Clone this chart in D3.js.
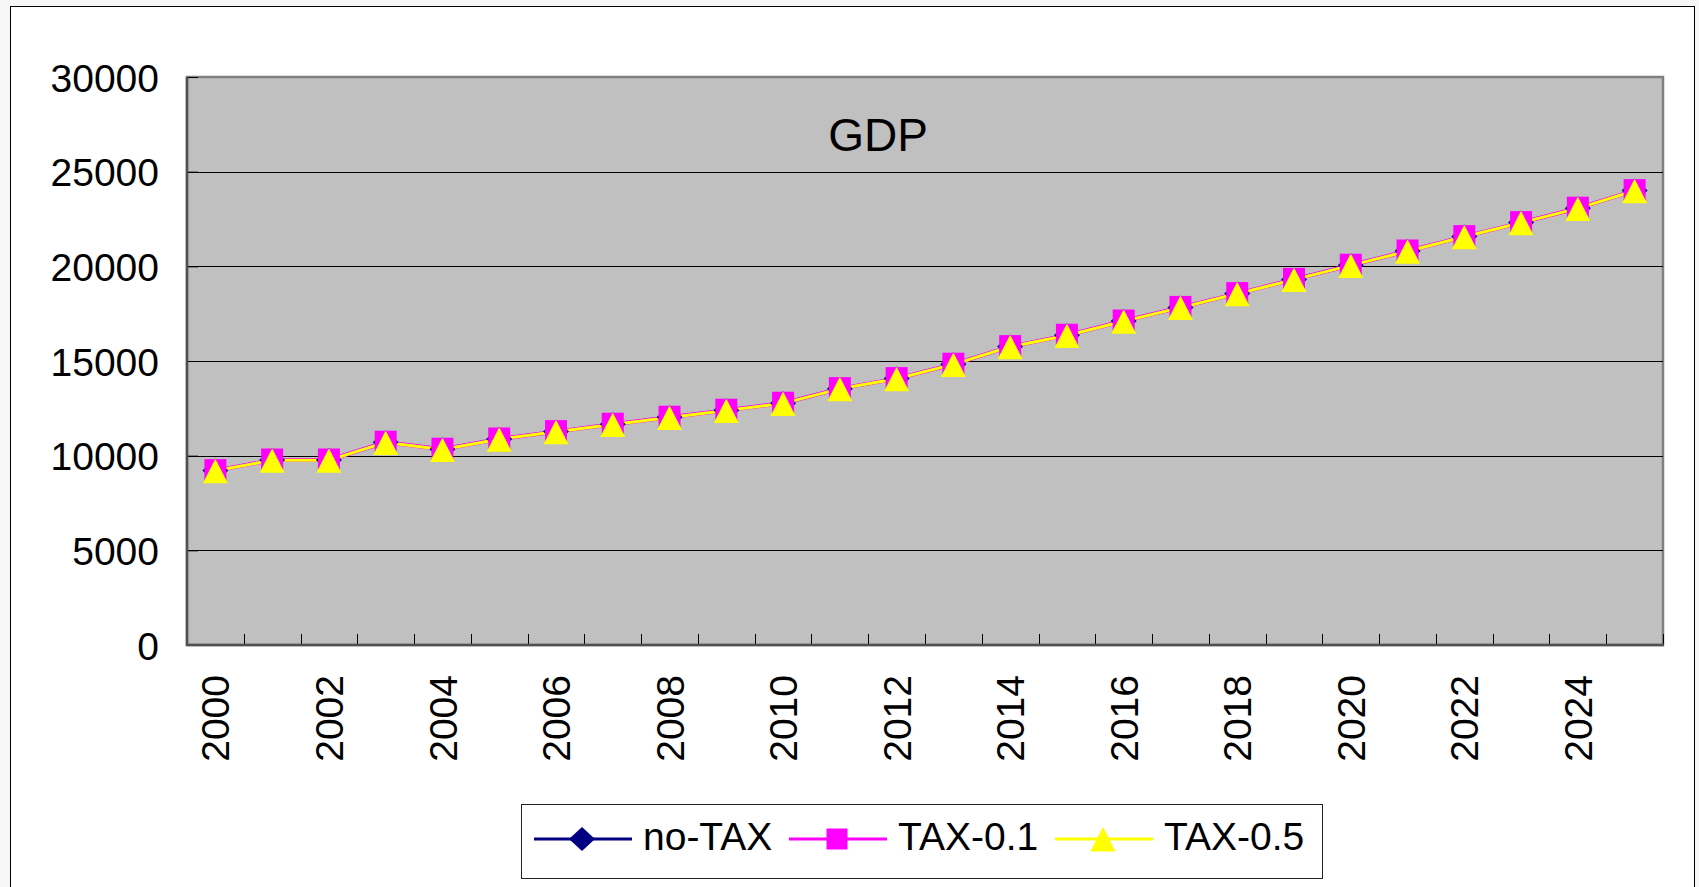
<!DOCTYPE html>
<html>
<head>
<meta charset="utf-8">
<script src="https://cdn.jsdelivr.net/npm/d3@7"></script>
<style>
  html, body { margin: 0; padding: 0; background: #f7f7f7; }
  svg { display: block; }
  text { font-family: "Liberation Sans", Arial, sans-serif; fill: #000; }
</style>
</head>
<body>
<svg id="chart" width="1699" height="887"></svg>
<script>
// data
const years = d3.range(2000, 2026);
const noTax  = [9210, 9770, 9770, 10710, 10340, 10880, 11270, 11660, 12030, 12400, 12770, 13540, 14070,
                14830, 15760, 16360, 17110, 17830, 18560, 19310, 20060, 20810, 21570, 22310, 23070, 24000];
const tax01  = [9210, 9770, 9770, 10710, 10340, 10880, 11270, 11660, 12030, 12400, 12770, 13540, 14070,
                14830, 15760, 16360, 17110, 17830, 18560, 19310, 20060, 20810, 21570, 22310, 23070, 24000];
const tax05  = [9200, 9760, 9760, 10700, 10330, 10870, 11260, 11650, 12020, 12390, 12760, 13530, 14060,
                14820, 15750, 16350, 17100, 17820, 18550, 19300, 20050, 20800, 21560, 22300, 23060, 23990];
const yTicks = [0, 5000, 10000, 15000, 20000, 25000, 30000];
const seriesNames = ["no-TAX", "TAX-0.1", "TAX-0.5"];

const plotL = 187, plotR = 1663, plotT = 77, plotB = 645;

const svg = d3.select("#chart");

// outer chart frame
svg.append("rect")
  .attr("x", 10.5).attr("y", 6.5)
  .attr("width", 1684).attr("height", 920)
  .attr("fill", "#fff").attr("stroke", "#000").attr("stroke-width", 1);

const x = d3.scaleBand().domain(years).range([plotL, plotR]).padding(0);
const y = d3.scaleLinear().domain([0, 30000]).range([plotB, plotT]);

// plot area
svg.append("rect")
  .attr("x", plotL).attr("y", plotT)
  .attr("width", plotR - plotL).attr("height", plotB - plotT)
  .attr("fill", "#c0c0c0").attr("stroke", "#808080").attr("stroke-width", 2.5);

// gridlines
svg.append("g")
  .selectAll("line")
  .data(yTicks.slice(1, -1))
  .join("line")
  .attr("x1", plotL).attr("x2", plotR)
  .attr("y1", d => Math.round(y(d)) + 0.5).attr("y2", d => Math.round(y(d)) + 0.5)
  .attr("stroke", "#000").attr("stroke-width", 1);

// y axis
let yAxisGen = d3.axisLeft(y).tickValues(yTicks).tickSize(-11).tickPadding(28).tickFormat(d3.format("d"));
let yAxis = svg.append("g").attr("transform", `translate(${plotL},0)`).call(yAxisGen);
yAxis.select(".domain").remove();
yAxis.selectAll("line").attr("stroke", "#000");
yAxis.selectAll("text").style("font-size", "39px").attr("dy", "0.36em");

// x axis
let xAxisGen = d3.axisBottom(x).tickSize(0).tickFormat(d => d % 2 === 0 ? d : "");
let xAxis = svg.append("g").attr("transform", `translate(0,${plotB})`).call(xAxisGen);
xAxis.select(".domain").remove();
xAxis.selectAll("text")
  .style("font-size", "39px")
  .attr("text-anchor", "end")
  .attr("transform", "rotate(-90)")
  .attr("x", -30).attr("y", 0).attr("dy", "0.36em");

// category boundary ticks (inside)
svg.append("g")
  .selectAll("line")
  .data(years.concat([years[years.length - 1] + 1]))
  .join("line")
  .attr("x1", (d, i) => Math.round(plotL + i * x.step()) + 0.5)
  .attr("x2", (d, i) => Math.round(plotL + i * x.step()) + 0.5)
  .attr("y1", plotB).attr("y2", plotB - 11)
  .attr("stroke", "#000").attr("stroke-width", 1);

// axis lines
svg.append("line").attr("x1", plotL).attr("x2", plotR + 1).attr("y1", plotB).attr("y2", plotB)
  .attr("stroke", "#505050").attr("stroke-width", 2.5);
svg.append("line").attr("x1", plotL).attr("x2", plotL).attr("y1", plotT).attr("y2", plotB + 1)
  .attr("stroke", "#505050").attr("stroke-width", 2.5);

// title
svg.append("text").attr("x", 878).attr("y", 151)
  .attr("text-anchor", "middle").style("font-size", "46px").text("GDP");

// markers
const diamond = "M0,-12L13,0L0,12L-13,0Z";
const square = "M-11,-11.5H11V11.5H-11Z";
const triangle = "M0,-12L12.5,12.5L-12.5,12.5Z";

const series = [
  { name: seriesNames[0], values: noTax, color: "#000080", width: 3, marker: diamond },
  { name: seriesNames[1], values: tax01, color: "#ff00ff", width: 4, marker: square },
  { name: seriesNames[2], values: tax05, color: "#ffff00", width: 3, marker: triangle }
];

const line = d3.line()
  .x((d, i) => x(years[i]) + x.bandwidth() / 2)
  .y(d => y(d));

series.forEach(s => {
  svg.append("path")
    .attr("d", line(s.values))
    .attr("fill", "none").attr("stroke", s.color).attr("stroke-width", s.width)
    .attr("stroke-linejoin", "round");
});

series.forEach(s => {
  svg.append("g")
    .selectAll("path")
    .data(s.values)
    .join("path")
    .attr("d", s.marker)
    .attr("transform", (d, i) => `translate(${x(years[i]) + x.bandwidth() / 2},${y(d)})`)
    .attr("fill", s.color);
});

// legend
const legend = svg.append("g");
legend.append("rect")
  .attr("x", 521.5).attr("y", 804.5).attr("width", 801).attr("height", 74)
  .attr("fill", "#fff").attr("stroke", "#222").attr("stroke-width", 1);

const legendX = [534, 789, 1055];
const legendMarkers = [diamond, "M-10.5,-10.5H10.5V10.5H-10.5Z", triangle];
series.forEach((s, i) => {
  let g = legend.append("g").attr("transform", `translate(${legendX[i]},839)`);
  g.append("line").attr("x1", 0).attr("x2", 98).attr("y1", 0).attr("y2", 0)
    .attr("stroke", s.color).attr("stroke-width", 3);
  g.append("path").attr("d", legendMarkers[i]).attr("transform", "translate(48,0)").attr("fill", s.color);
  g.append("text").attr("x", 109).attr("y", 11).style("font-size", "39px").text(s.name);
});
</script>
</body>
</html>
